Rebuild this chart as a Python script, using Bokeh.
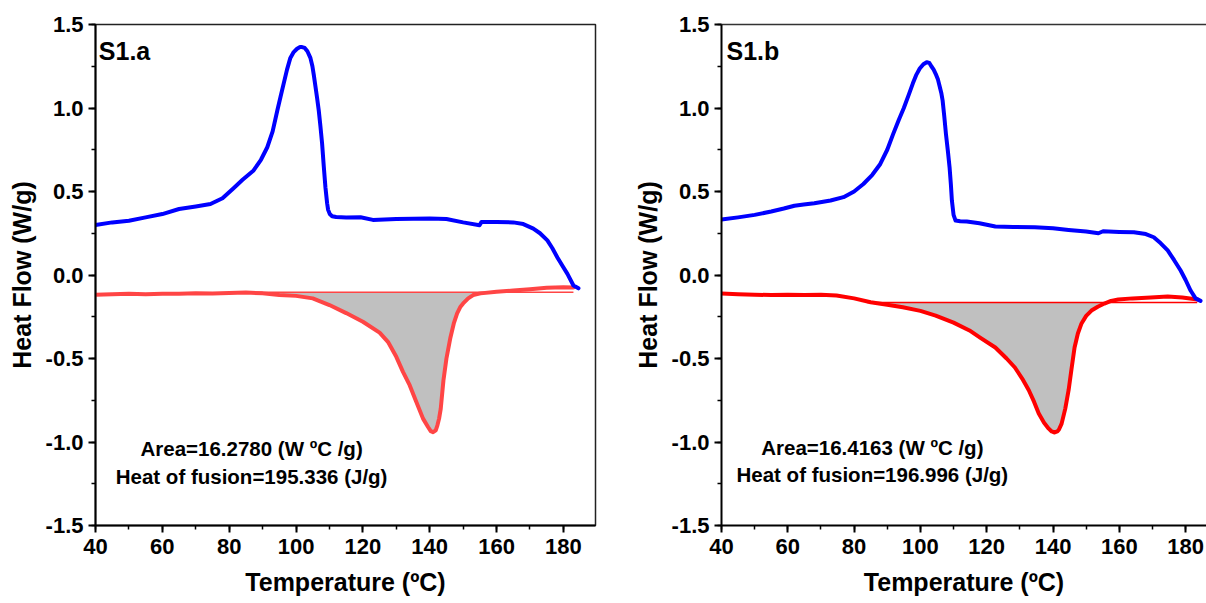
import numpy as np
from bokeh.plotting import figure
from bokeh.models import Label, LinearAxis, SingleIntervalTicker, NumeralTickFormatter, FixedTicker, Range1d
from bokeh.layouts import row
from bokeh.embed import file_html
from bokeh.resources import INLINE

# ---------------- data: panel S1.a ----------------
a_blue_T = [40, 45, 50, 55, 60, 65, 70, 74.4, 78, 81.3, 84, 87.3, 89.5, 91.4, 93, 94.4, 95.4, 96.3,
            97.3, 98.3, 99.3, 100.3, 101.2, 101.8, 102.6, 103.4, 104.3, 104.9, 105.3, 105.8, 106.3,
            106.8, 107.3, 107.8, 108.3, 108.8, 109.3, 109.6, 110.1, 110.8, 112, 115, 119.3,
            123, 130, 140, 145, 150, 154.9, 155.5, 160, 165, 168, 171, 173, 175.2, 176.7, 178.2,
            179.7, 181.2, 183, 184.5]
a_blue_v = [0.30, 0.315, 0.325, 0.345, 0.365, 0.395, 0.41, 0.425, 0.46, 0.52, 0.57, 0.626, 0.69, 0.765,
            0.86, 0.985, 1.07, 1.146, 1.23, 1.30, 1.335, 1.355, 1.365, 1.365, 1.36, 1.34, 1.30, 1.25,
            1.20, 1.13, 1.06, 0.985, 0.89, 0.787, 0.65, 0.524, 0.43, 0.39, 0.365, 0.352, 0.347,
            0.345, 0.346, 0.33, 0.335, 0.338, 0.335, 0.315, 0.298, 0.318, 0.318, 0.315, 0.305,
            0.278, 0.25, 0.207, 0.16, 0.105, 0.055, 0.007, -0.063, -0.08]
a_red_T = [40, 45, 50, 55, 60, 65, 70, 75, 80, 85, 90, 95, 100, 105, 110, 115, 120, 125, 127.5, 130,
           132, 134, 136, 138, 139.5, 140.3, 141, 141.8, 142.3, 142.8, 143.3, 144.1, 145, 146.2,
           147.2, 148.2, 149.2, 150, 151.5, 153, 155.2, 160, 165, 170, 175, 180, 183]
a_red_v = [-0.118, -0.115, -0.113, -0.116, -0.112, -0.113, -0.110, -0.111, -0.108, -0.105, -0.110,
           -0.120, -0.125, -0.140, -0.180, -0.228, -0.280, -0.345, -0.40, -0.49, -0.58, -0.66, -0.76,
           -0.86, -0.91, -0.935, -0.941, -0.93, -0.90, -0.86, -0.80, -0.632, -0.50, -0.374, -0.29,
           -0.23, -0.19, -0.17, -0.14, -0.12, -0.11, -0.10, -0.093, -0.085, -0.076, -0.074, -0.075]
a_base_T = [85.4, 183]
a_base_v = [-0.103, -0.103]
a_fill_range = [88, 157]
a_text = ["Area=16.2780 (W ºC /g)", "Heat of fusion=195.336 (J/g)"]

# ---------------- data: panel S1.b ----------------
b_blue_T = [40, 45, 50, 55, 58.8, 62, 64.8, 68, 72.9, 76.8, 80, 82.8, 85.5, 87.9, 90, 91.8, 93.5, 95,
            96.5, 97.7, 98.8, 99.8, 100.9, 101.9, 102.7, 103.3, 104.0, 104.6, 105.3, 105.8, 106.3,
            106.7, 107.2, 107.7, 108.3, 108.8, 109.2, 109.5, 110.0, 110.6, 112, 114,
            117.8, 122.6, 128, 134.5, 140, 144.7, 150, 153.7, 155.1, 160, 164.4, 168, 170.4, 172.5,
            174.6, 176.5, 178.5, 180, 181.5, 183, 184.5]
b_blue_v = [0.332, 0.345, 0.36, 0.38, 0.398, 0.415, 0.422, 0.43, 0.446, 0.466, 0.50, 0.545, 0.60,
            0.665, 0.75, 0.845, 0.93, 1.0, 1.08, 1.146, 1.20, 1.236, 1.262, 1.274, 1.27, 1.25, 1.23,
            1.205, 1.17, 1.13, 1.09, 1.045, 0.95, 0.845, 0.74, 0.644, 0.54, 0.446, 0.36, 0.326,
            0.322, 0.32, 0.31, 0.29, 0.288, 0.286, 0.28, 0.27, 0.26, 0.25, 0.262, 0.258,
            0.256, 0.245, 0.226, 0.19, 0.147, 0.09, 0.027, -0.03, -0.093, -0.14, -0.155]
b_red_T = [40, 45, 50, 55, 60, 65, 70, 74.7, 80, 85, 90, 94.7, 100, 104.6, 110, 114.8, 118, 122.6,
           126, 128.5, 130.7, 132.7, 134.3, 135.7, 137.3, 138.7, 139.6, 140.5, 141.3, 141.8, 142.6,
           143.7, 144.7, 145.6, 146.5, 147.5, 148.6, 150, 151.6, 153.5, 155.5, 157.5, 159.7, 164,
           169.5, 174.6, 179, 183.6]
b_red_v = [-0.111, -0.115, -0.118, -0.12, -0.118, -0.12, -0.118, -0.123, -0.14, -0.163, -0.178,
           -0.193, -0.215, -0.243, -0.285, -0.332, -0.375, -0.434, -0.50, -0.554, -0.62, -0.69,
           -0.76, -0.83, -0.885, -0.92, -0.937, -0.943, -0.937, -0.925, -0.89, -0.80, -0.69, -0.56,
           -0.434, -0.35, -0.29, -0.245, -0.213, -0.19, -0.171, -0.155, -0.147, -0.14, -0.135,
           -0.129, -0.135, -0.147]
b_base_T = [84, 183.5]
b_base_v = [-0.165, -0.165]
b_fill_range = [85, 156.5]
b_text = ["Area=16.4163 (W ºC /g)", "Heat of fusion=196.996 (J/g)"]

x_ticks_interval = 20
y_ticks_interval = 0.5

FONT = "Liberation Sans"


def style_axes(xax, yax):
    for ax in (xax, yax):
        ax.axis_line_width = 2
        ax.axis_line_color = "black"
        ax.major_tick_line_width = 2
        ax.minor_tick_line_width = 1.5
        ax.major_tick_in = 0
        ax.major_tick_out = 7
        ax.minor_tick_in = 0
        ax.minor_tick_out = 4
        ax.major_label_text_font = FONT
        ax.major_label_text_font_style = "bold"
        ax.major_label_text_font_size = "22px"
        ax.major_label_text_color = "black"
        ax.axis_label_text_font = FONT
        ax.axis_label_text_font_style = "bold"
        ax.axis_label_text_font_size = "25px"
        ax.axis_label_text_color = "black"
    xax.ticker = SingleIntervalTicker(interval=x_ticks_interval, num_minor_ticks=2)
    yax.ticker = SingleIntervalTicker(interval=y_ticks_interval, num_minor_ticks=2)
    xax.formatter = NumeralTickFormatter(format="0")
    yax.formatter = NumeralTickFormatter(format="0.0")
    xax.major_label_standoff = 6
    xax.axis_label_standoff = 11
    yax.major_label_standoff = 5
    yax.axis_label_standoff = 7


def make_panel(width, left_border, right_border, x_end, blue_T, blue_v, red_T, red_v, red_color,
               base_T, base_v, fill_range, texts, text_x, text_y, tag, tag_x, outline):
    p = figure(width=width, height=603, x_range=Range1d(40, x_end), y_range=Range1d(-1.5, 1.5),
               output_backend="svg", toolbar_location=None,
               min_border_left=left_border, min_border_right=right_border,
               min_border_top=24, min_border_bottom=78,
               x_axis_label="Temperature (ºC)", y_axis_label="Heat Flow (W/g)")
    p.background_fill_color = "white"
    p.border_fill_color = "white"
    p.xgrid.visible = False
    p.ygrid.visible = False
    style_axes(p.below[0], p.left[0])
    if outline:
        p.outline_line_color = "#222222"
        p.outline_line_width = 1.5
    else:
        p.outline_line_color = None
        top = LinearAxis(ticker=FixedTicker(ticks=[]), major_label_text_font_size="0px",
                         major_tick_out=0, minor_tick_out=0, major_tick_in=0, minor_tick_in=0,
                         major_label_standoff=0, axis_label_standoff=0,
                         axis_line_width=1.5, axis_line_color="#333333")
        p.add_layout(top, "above")

    rT = np.array(red_T, dtype=float)
    rv = np.array(red_v, dtype=float)
    m = (rT >= fill_range[0]) & (rT <= fill_range[1])
    base_level = base_v[0]
    p.varea(x=rT[m], y1=np.full(m.sum(), base_level), y2=np.minimum(rv[m], base_level),
            fill_color="#C0C0C0")
    p.line(base_T, base_v, line_color=red_color, line_width=1.5)
    p.line(red_T, red_v, line_color=red_color, line_width=4, line_join="round", line_cap="round")
    p.line(blue_T, blue_v, line_color="#0000FF", line_width=4, line_join="round", line_cap="round")

    p.add_layout(Label(x=tag_x, y=1.34, text=tag, text_font=FONT, text_font_style="bold",
                       text_font_size="25px", text_baseline="alphabetic", text_align="left",
                       text_color="black"))
    for t, yy in zip(texts, text_y):
        p.add_layout(Label(x=text_x, y=yy, text=t, text_font=FONT, text_font_style="bold",
                           text_font_size="20.5px", text_baseline="alphabetic", text_align="center",
                           text_color="black"))
    return p


p1 = make_panel(630, 95, 35, 189.6, a_blue_T, a_blue_v, a_red_T, a_red_v, "#FF4545",
                a_base_T, a_base_v, a_fill_range, a_text, 86.7, [-1.039, -1.207], "S1.a", 41.0, True)
p2 = make_panel(576, 87, 0, 186.3, b_blue_T, b_blue_v, b_red_T, b_red_v, "#FF0000",
                b_base_T, b_base_v, b_fill_range, b_text, 85.5, [-1.033, -1.195], "S1.b", 41.5, False)

layout = row(p1, p2)
open("out.html", "w").write(file_html(layout, INLINE))
